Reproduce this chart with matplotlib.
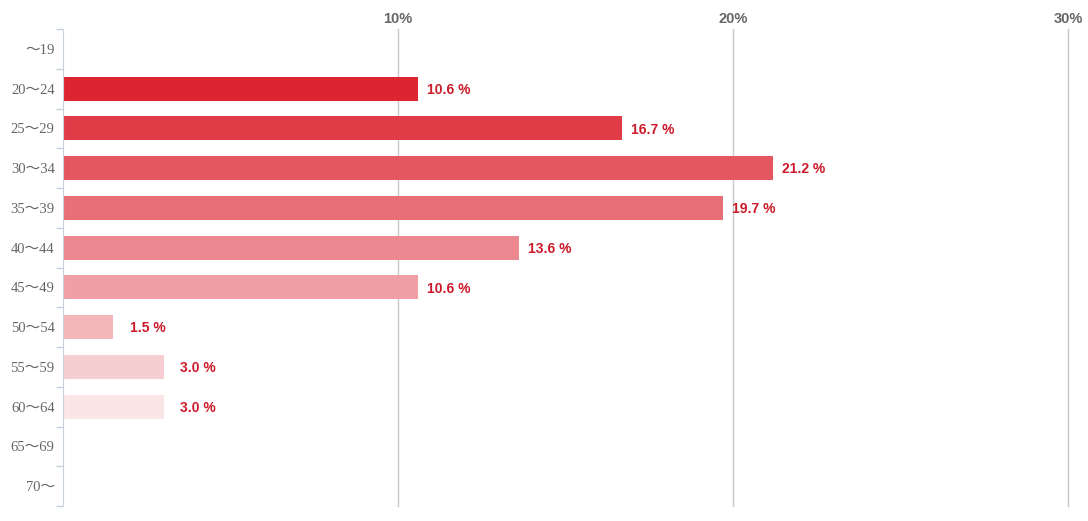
import matplotlib
matplotlib.use("Agg")
import matplotlib.pyplot as plt
import numpy as np

# age groups, top to bottom
ages = ["～19", "20～24", "25～29", "30～34", "35～39", "40～44",
        "45～49", "50～54", "55～59", "60～64", "65～69", "70～"]
shares = [0.0, 10.6, 16.7, 21.2, 19.7, 13.6, 10.6, 1.5, 3.0, 3.0, 0.0, 0.0]
bar_colors = ["#dd2531", "#dd2531", "#e03c47", "#e45660", "#e86f77", "#ec8890",
              "#f0a0a5", "#f3b6ba", "#f6cdd0", "#fae5e7", "#fae5e7", "#fae5e7"]
xticks = [10, 20, 30]

W, H = 1088, 521
fig = plt.figure(figsize=(W / 100, H / 100), dpi=100)
ax = fig.add_axes([63 / W, 1 - 506 / H, (1068 - 63) / W, (506 - 29) / H])

y = np.arange(len(ages))
ax.barh(y, shares, height=0.6, color=bar_colors, zorder=3)

ax.set_xlim(0, 30)
ax.set_ylim(len(ages) - 0.5, -0.5)

# vertical grid lines
for xv in xticks:
    ax.axvline(xv, color="#c8c8c8", lw=1, zorder=1, clip_on=False)

# value labels (small bars get a bit more room)
for yi, v in zip(y, shares):
    if v > 0:
        ax.annotate(f"{v:.1f} %", (v, yi + 0.03), xytext=(9 if v > 5 else 17, 0),
                    textcoords="offset pixels", va="center", ha="left",
                    fontsize=10, fontweight="bold", color="#cc1a2a",
                    family=["Liberation Sans", "DejaVu Sans"], zorder=4)

# x ticks on top
ax.xaxis.tick_top()
ax.set_xticks(xticks)
ax.set_xticklabels([f"{t}%" for t in xticks], fontsize=10.5, fontweight="bold",
                   color="#666666", family=["Liberation Sans Narrow", "Liberation Sans"])
ax.tick_params(axis="x", length=0, pad=2)

# y labels, ticks between categories
ax.set_yticks(y)
ax.set_yticklabels(ages, fontsize=10.5, color="#666666",
                   family=["Liberation Serif", "Noto Sans CJK JP"])
ax.tick_params(axis="y", length=0, pad=6)
ax.set_yticks(np.arange(-0.5, len(ages)), minor=True)
ax.tick_params(axis="y", which="minor", length=5, color="#c8d0dc", width=1)

for s in ["top", "right", "bottom"]:
    ax.spines[s].set_visible(False)
ax.spines["left"].set_color("#c8d0dc")
ax.spines["left"].set_zorder(5)

fig.savefig("out.png", dpi=100)
